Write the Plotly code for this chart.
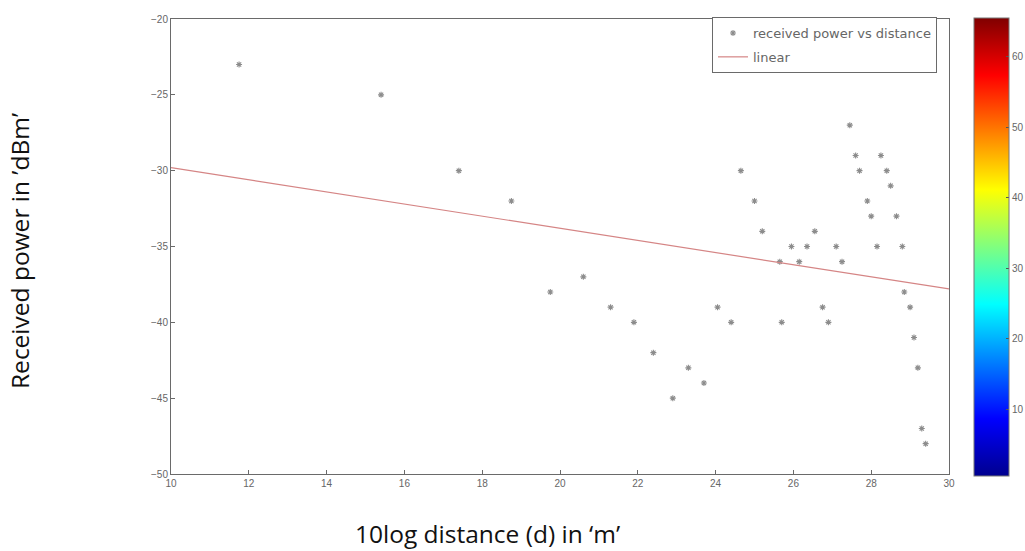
import plotly.graph_objects as go

# ---- data ----
dist_db = [11.75, 15.4, 17.4, 18.75, 19.75, 20.6, 21.3, 21.9, 22.4, 22.9,
           23.3, 23.7, 24.05, 24.4, 24.65, 25.0, 25.2, 25.65, 25.7, 25.95,
           26.15, 26.35, 26.55, 26.75, 26.9, 27.1, 27.25, 27.45, 27.6, 27.7,
           27.9, 28.0, 28.15, 28.25, 28.4, 28.5, 28.65, 28.8, 28.85, 29.0,
           29.1, 29.2, 29.3, 29.4]
power_dbm = [-23, -25, -30, -32, -38, -37, -39, -40, -42, -45,
             -43, -44, -39, -40, -30, -32, -34, -36, -40, -35,
             -36, -35, -34, -39, -40, -35, -36, -27, -29, -30,
             -32, -33, -35, -29, -30, -31, -33, -35, -38, -39,
             -41, -43, -47, -48]
fit_x = [10, 30]
fit_y = [-29.8, -37.8]

x_ticks = [10, 12, 14, 16, 18, 20, 22, 24, 26, 28, 30]
y_ticks = [-50, -45, -40, -35, -30, -25, -20]
cbar_ticks = [10, 20, 30, 40, 50, 60]
cbar_range = [0.5, 65.5]

jet = [[0.0, "rgb(0,0,143)"], [0.125, "rgb(0,0,255)"], [0.375, "rgb(0,255,255)"],
       [0.625, "rgb(255,255,0)"], [0.875, "rgb(255,0,0)"], [1.0, "rgb(128,0,0)"]]

W, H = 1025, 551
L, R, T, B = 171, 76, 19, 77
pw, ph = W - L - R, H - T - B

fig = go.Figure()
fig.add_trace(go.Scatter(
    x=dist_db, y=power_dbm, mode="markers", name="received power vs distance",
    legendgroup="a",
    marker=dict(symbol="asterisk-open", size=5, color="#8c8c8c",
                line=dict(color="#8c8c8c", width=1.1)),
))
fig.add_trace(go.Scatter(
    x=fit_x, y=fit_y, mode="lines", name="linear", legendgroup="b",
    line=dict(color="#d58585", width=1.2),
))
# colour bar holder
fig.add_trace(go.Scatter(
    x=[None], y=[None], mode="markers", showlegend=False, hoverinfo="skip",
    marker=dict(color=[32], colorscale=jet, cmin=cbar_range[0], cmax=cbar_range[1],
                showscale=True,
                colorbar=dict(
                    x=(974 - L) / pw, xanchor="left", xref="paper",
                    y=(H - B - 247) / ph, yanchor="middle",
                    len=(476 - 18) / ph, lenmode="fraction",
                    thickness=35, thicknessmode="pixels",
                    outlinecolor="#777", outlinewidth=1,
                    tickvals=cbar_ticks, ticks="inside", ticklen=3,
                    tickcolor="#555",
                    tickfont=dict(family="Liberation Sans, Arial", size=10, color="#666"),
                    xpad=0, ypad=0,
                )),
))

axis_common = dict(
    showgrid=False, zeroline=False, showline=True, linecolor="#6a6a6a",
    linewidth=1, mirror=True, ticks="inside", ticklen=4, tickcolor="#6a6a6a",
    tickfont=dict(family="Liberation Sans, Arial", size=10, color="#666"),
)
fig.update_xaxes(range=[10, 30], tickvals=x_ticks, **axis_common)
fig.update_yaxes(range=[-50, -20], tickvals=y_ticks, **axis_common)

title_font = dict(family="Open Sans, Noto Sans", size=24.5, color="#111")
fig.update_layout(
    width=W, height=H, autosize=False,
    margin=dict(l=L, r=R, t=T, b=B, pad=0, autoexpand=False),
    paper_bgcolor="white", plot_bgcolor="white",
    legend=dict(
        x=(937 - L) / pw, xanchor="right", y=(H - B - 17) / ph, yanchor="top",
        bgcolor="white", bordercolor="#6a6a6a", borderwidth=1,
        font=dict(family="DejaVu Sans", size=13, color="#666"),
        tracegroupgap=4, itemwidth=30,
    ),
    annotations=[
        dict(text="10log distance (d) in \u2018m\u2019", xref="paper", yref="paper",
             x=(487 - L) / pw, y=-(533 - (H - B)) / ph, xanchor="center", yanchor="middle",
             showarrow=False, font=title_font),
        dict(text="Received power in \u2019dBm\u2019", xref="paper", yref="paper",
             x=(20 - L) / pw, y=(H - B - 251) / ph, xanchor="center", yanchor="middle",
             textangle=-90, showarrow=False, font=title_font),
    ],
)

fig.write_html("out.html")
